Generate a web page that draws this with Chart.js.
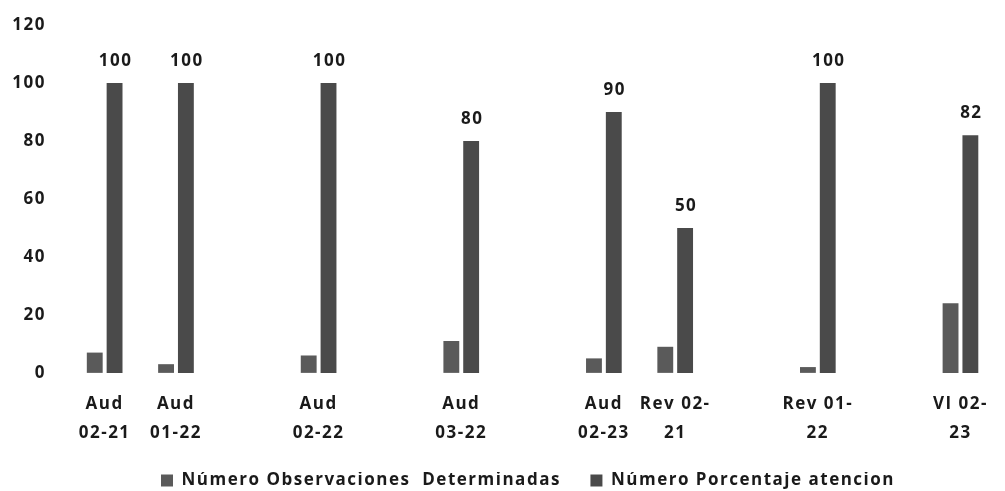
<!DOCTYPE html>
<html>
<head>
<meta charset="utf-8">
<script src="https://cdn.jsdelivr.net/npm/chart.js@4/dist/chart.umd.min.js"></script>
<style>
  html, body { margin: 0; padding: 0; background: #fff; }
  #wrap { width: 1005px; height: 491px; position: relative; }
</style>
</head>
<body>
<div id="wrap"><canvas id="chart"></canvas></div>
<script>
// Categories (blank slots keep the uneven spacing of the original)
const categories = [
    ['Aud', '02-21'], ['Aud', '01-22'], '', ['Aud', '02-22'], '', ['Aud', '03-22'], '',
    ['Aud', '02-23'], ['Rev 02-', '21'], '', ['Rev 01-', '22'], '', ['VI 02-', '23']
];
const observaciones = [7, 3, null, 6, null, 11, null, 5, 9, null, 2, null, 24];
const porcentaje = [100, 100, null, 100, null, 80, null, 90, 50, null, 100, null, 82];
const yTicks = [0, 20, 40, 60, 80, 100, 120];

const FONT = "'Open Sans', 'Noto Sans', sans-serif";
const WEIGHT = 'bold';
const TEXT = '#1a1a1a';

// The scanned original is stretched sideways, so widen the text a bit
const wideText = {
    id: 'wideText',
    beforeUpdate(chart) { chart.ctx.letterSpacing = '1.5px'; },
    beforeDraw(chart) { chart.ctx.letterSpacing = '1.5px'; }
};

// Move the legend to where the original has it
const legendShift = {
    id: 'legendShift',
    afterLayout(chart) {
        const lg = chart.legend;
        lg.top += 8; lg.bottom += 8;
        lg.left += 26; lg.right += 26;
    }
};

// Draws the value above each bar of the second series
const valueLabels = {
    id: 'valueLabels',
    afterDatasetsDraw(chart) {
        const ctx = chart.ctx;
        const meta = chart.getDatasetMeta(1);
        ctx.save();
        ctx.font = WEIGHT + ' 17px ' + FONT;
        ctx.fillStyle = TEXT;
        ctx.textAlign = 'center';
        ctx.textBaseline = 'alphabetic';
        meta.data.forEach((bar, i) => {
            const v = porcentaje[i];
            if (v === null) return;
            ctx.fillText(String(v), bar.x + 1, bar.y - 17);
        });
        ctx.restore();
    }
};

new Chart(document.getElementById('chart'), {
    type: 'bar',
    data: {
        labels: categories,
        datasets: [
            {
                label: 'Número Observaciones  Determinadas',
                data: observaciones,
                backgroundColor: '#5a5a5a',
                categoryPercentage: 0.556,
                barPercentage: 0.8
            },
            {
                label: 'Número Porcentaje atencion',
                data: porcentaje,
                backgroundColor: '#4a4a4a',
                categoryPercentage: 0.556,
                barPercentage: 0.8
            }
        ]
    },
    plugins: [wideText, legendShift, valueLabels],
    options: {
        responsive: true,
        maintainAspectRatio: false,
        animation: false,
        layout: { padding: { top: 0, left: 0, right: 1, bottom: 0 } },
        scales: {
            x: {
                grid: { display: false, drawTicks: false },
                border: { display: false },
                ticks: {
                    font: { size: 17, family: FONT, weight: WEIGHT, lineHeight: 1.68 },
                    color: TEXT, maxRotation: 0, autoSkip: false, padding: 17
                }
            },
            y: {
                min: 0,
                max: 120,
                grid: { display: false, drawTicks: false },
                border: { display: false },
                afterBuildTicks: (axis) => { axis.ticks = yTicks.map(v => ({ value: v })); },
                afterFit: (axis) => {
                    axis.width = 69;
                    axis.paddingTop = 25;
                    axis.paddingBottom = 10;
                },
                ticks: { font: { size: 17, family: FONT, weight: WEIGHT }, color: TEXT, padding: 23 }
            }
        },
        plugins: {
            legend: {
                position: 'bottom',
                labels: {
                    font: { size: 17, family: FONT, weight: WEIGHT },
                    color: TEXT,
                    boxWidth: 12,
                    boxHeight: 12,
                    padding: 0,
                    generateLabels: (chart) => Chart.defaults.plugins.legend.labels.generateLabels(chart)
                        .map((item, i) => Object.assign(item, { text: i === 0 ? item.text + '     ' : item.text }))
                }
            },
            tooltip: { enabled: false }
        }
    }
});
</script>
</body>
</html>
